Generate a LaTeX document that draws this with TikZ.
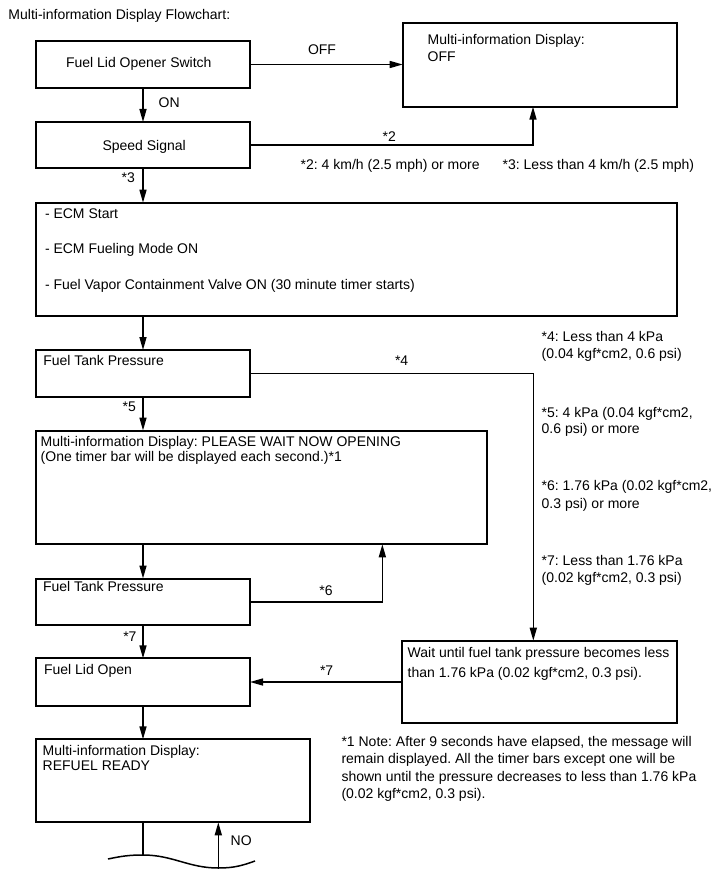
\documentclass[tikz,border=0pt]{standalone}
\usepackage{fontspec}
\setmainfont{Liberation Sans}
\usetikzlibrary{arrows.meta}
\newcommand\fsz{\fontsize{14}{17}\selectfont\frenchspacing}
\begin{document}
\begin{tikzpicture}[x=1pt,y=-1pt,
  box/.style={draw, line width=2pt, inner sep=0pt, outer sep=0pt, anchor=north west},
  arr/.style={line width=1.5pt, -{Triangle[length=13pt,width=7pt]}},
  ln/.style={line width=1.5pt},
  t/.style={anchor=base west, inner sep=0pt, outer sep=0pt, font=\fsz}]
\useasboundingbox[fill=white] (0,0) rectangle (715,882);

% boxes
\node[box, minimum width=214pt, minimum height=47pt] (b1) at (36,41) {};
\node[box, minimum width=214pt, minimum height=46pt] (b2) at (36,122) {};
\node[box, minimum width=274pt, minimum height=83.4pt] (off) at (402.7,23.3) {};
\node[box, minimum width=640.7pt, minimum height=113pt] (ecm) at (36,202.7) {};
\node[box, minimum width=214pt, minimum height=46.7pt] (ftp1) at (36,350) {};
\node[box, minimum width=450.7pt, minimum height=113.8pt] (please) at (36,430.5) {};
\node[box, minimum width=214pt, minimum height=46.5pt] (ftp2) at (36,578.5) {};
\node[box, minimum width=214pt, minimum height=47.7pt] (lid) at (36,658.3) {};
\node[box, minimum width=274.4pt, minimum height=82.6pt] (wait) at (402.3,640.7) {};
\node[box, minimum width=274pt, minimum height=83pt] (refuel) at (36,739.3) {};

% wave coordinates
\coordinate (wa) at (108,859);
\coordinate (wb) at (143,855);
\coordinate (wc) at (218.3,868);
\coordinate (wd) at (255,861);

% texts
\node[t] (title) at (8.5,20) {Multi-information Display Flowchart:};
\node[t] (tb1) at (66,68) {Fuel Lid Opener Switch};
\node[t] (toff) at (308,55) {OFF};
\node[t] (ton) at (158.7,108) {ON};
\node[t] (offa) at (427.7,45) {Multi-information Display:};
\node[t] (offb) at (427.7,61.7) {OFF};
\node[t] (tb2) at (102.5,151) {Speed Signal};
\node[t] (s2) at (382.7,141.7) {*2};
\node[t] (n2) at (300.7,170) {*2: 4 km/h (2.5 mph) or more};
\node[t] (n3) at (502.7,170) {*3: Less than 4 km/h (2.5 mph)};
\node[t] (s3) at (121.7,183) {*3};
\node[t] (ecm1) at (45,218.3) {- ECM Start};
\node[t] (ecm2) at (45,254) {- ECM Fueling Mode ON};
\node[t] (ecm3) at (45,289.3) {- Fuel Vapor Containment Valve ON (30 minute timer starts)};
\node[t] (n4a) at (541.7,341.7) {*4: Less than 4 kPa};
\node[t] (n4b) at (541.7,358.3) {(0.04 kgf*cm2, 0.6 psi)};
\node[t] (ftp1t) at (43.3,365) {Fuel Tank Pressure};
\node[t] (s4) at (395,365) {*4};
\node[t] (s5) at (122.7,411.7) {*5};
\node[t] (n5a) at (541.7,417.3) {*5: 4 kPa (0.04 kgf*cm2,};
\node[t] (n5b) at (541.7,433.3) {0.6 psi) or more};
\node[t] (pl1) at (40.7,446.7) {Multi-information Display: PLEASE WAIT NOW OPENING};
\node[t] (pl2) at (40.7,461.5) {(One timer bar will be displayed each second.)*1};
\node[t] (n6a) at (541.7,490.7) {*6: 1.76 kPa (0.02 kgf*cm2,};
\node[t] (n6b) at (541.7,508) {0.3 psi) or more};
\node[t] (n7a) at (541.7,565) {*7: Less than 1.76 kPa};
\node[t] (n7b) at (541.7,582.3) {(0.02 kgf*cm2, 0.3 psi)};
\node[t] (ftp2t) at (43,591.7) {Fuel Tank Pressure};
\node[t] (s6) at (319.3,595) {*6};
\node[t] (s7a) at (123.3,641.7) {*7};
\node[t] (waita) at (407.7,657.7) {Wait until fuel tank pressure becomes less};
\node[t] (waitb) at (407.7,677.3) {than 1.76 kPa (0.02 kgf*cm2, 0.3 psi).};
\node[t] (lidt) at (44,674.3) {Fuel Lid Open};
\node[t] (s7b) at (320,675) {*7};
\node[t] (note1) at (341.5,746) {*1 Note: After 9 seconds have elapsed, the message will};
\node[t] (note2) at (341.5,763.5) {remain displayed. All the timer bars except one will be};
\node[t] (note3) at (341.5,781.3) {shown until the pressure decreases to less than 1.76 kPa};
\node[t] (note4) at (341.5,798.5) {(0.02 kgf*cm2, 0.3 psi).};
\node[t] (refa) at (42.7,755) {Multi-information Display:};
\node[t] (refb) at (42.7,770.7) {REFUEL READY};
\node[t] (no) at (230.7,845) {NO};

% connectors
\draw[arr] (b1.east) -- (b1.east -| off.west);
\draw[arr] (b1.south) -- (b2.north);
\draw[arr] (b2.east) -| ([xshift=-6.7pt]off.south);
\draw[arr] (b2.south) -- (b2.south |- ecm.north);
\draw[arr] (ftp1.north |- ecm.south) -- (ftp1.north);
\draw[arr] (ftp1.east) -| ([xshift=-6.2pt]wait.north);
\draw[arr] (ftp1.south) -- (ftp1.south |- please.north);
\draw[arr] (ftp2.north |- please.south) -- (ftp2.north);
\draw[arr] (ftp2.east) -| ([xshift=121pt]please.south);
\draw[arr] (ftp2.south) -- (lid.north);
\draw[arr] (wait.west) -- (wait.west -| lid.east);
\draw[arr] (lid.south) -- (lid.south |- refuel.north);
\draw[ln] (lid.south |- refuel.south) -- (wb);
\draw[ln] (wa) to[out=12,in=180] (wb) to[out=0,in=180] (wc) to[out=0,in=200] (wd);
\draw[arr] (wc) -- (wc |- refuel.south);
\end{tikzpicture}
\end{document}
